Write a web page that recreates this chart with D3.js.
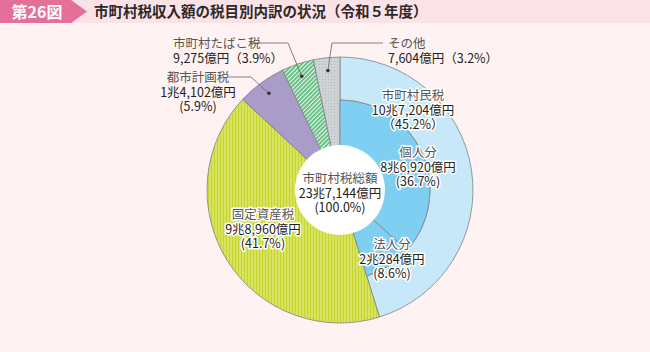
<!DOCTYPE html>
<html>
<head>
<meta charset="utf-8">
<script src="https://cdn.jsdelivr.net/npm/d3@7"></script>
<style>
  html, body { margin: 0; padding: 0; background: #fef3f2; }
  svg { display: block; font-family: "Noto Sans CJK JP", "Noto Sans", sans-serif; }
</style>
</head>
<body>
<div id="chart"></div>
<script>
// 億円
const taxNames = ["市町村民税", "固定資産税", "都市計画税", "市町村たばこ税", "その他"];
const taxValues = [107204, 98960, 14102, 9275, 7604];
const taxAmounts = ["10兆7,204億円", "9兆8,960億円", "1兆4,102億円", "9,275億円", "7,604億円"];
const taxShares = ["45.2%", "41.7%", "5.9%", "3.9%", "3.2%"];

const residentNames = ["個人分", "法人分"];
const residentValues = [86920, 20284];
const residentAmounts = ["8兆6,920億円", "2兆284億円"];
const residentShares = ["36.7%", "8.6%"];

const totalName = "市町村税総額";
const totalAmount = "23兆7,144億円";
const totalShare = "100.0%";

const W = 650, H = 352;
const cx = 340, cy = 190;
const R = 133, rMid = 90, rHole = 45;

const svg = d3.select("#chart").append("svg")
    .attr("width", W)
    .attr("height", H);

// patterns
const defs = svg.append("defs");

const pStripe = defs.append("pattern")
    .attr("id", "pat-fixed")
    .attr("patternUnits", "userSpaceOnUse")
    .attr("width", 3).attr("height", 10);
pStripe.append("rect").attr("width", 3).attr("height", 10).attr("fill", "#d8e460");
pStripe.append("rect").attr("width", 1).attr("height", 10).attr("fill", "#c5d52c");

const pHatch = defs.append("pattern")
    .attr("id", "pat-tobacco")
    .attr("patternUnits", "userSpaceOnUse")
    .attr("width", 3).attr("height", 3)
    .attr("patternTransform", "rotate(45)");
pHatch.append("rect").attr("width", 3).attr("height", 3).attr("fill", "#e8f6ea");
pHatch.append("rect").attr("width", 1.7).attr("height", 3).attr("fill", "#55b977");

const pDot = defs.append("pattern")
    .attr("id", "pat-other")
    .attr("patternUnits", "userSpaceOnUse")
    .attr("width", 3).attr("height", 3);
pDot.append("rect").attr("width", 3).attr("height", 3).attr("fill", "#cfd3d6");
pDot.append("rect").attr("width", 1).attr("height", 1).attr("fill", "#b3b8bc");

// title band
svg.append("rect").attr("x", 0).attr("y", 0).attr("width", W).attr("height", 23).attr("fill", "#fbe2e7");
svg.append("path")
    .attr("d", "M0,0 H71 L87,11.5 L71,23 H0 Z")
    .attr("fill", "#e4709a");
svg.append("text")
    .attr("x", 37).attr("y", 17.5)
    .attr("text-anchor", "middle")
    .attr("fill", "#fff")
    .style("font-size", "16px")
    .style("font-weight", "bold")
    .text("第26図");
svg.append("text")
    .attr("x", 94).attr("y", 17)
    .attr("fill", "#2a2a2a")
    .style("font-size", "14.5px")
    .style("font-weight", "bold")
    .text("市町村税収入額の税目別内訳の状況（令和５年度）");

const g = svg.append("g").attr("transform", `translate(${cx},${cy})`);

const pie = d3.pie().sort(null).value(d => d);
const taxArcs = pie(taxValues);

const fills = ["#c6e8f9", "url(#pat-fixed)", "#a99cc9", "url(#pat-tobacco)", "url(#pat-other)"];

// outer slices (市町村民税 only outer ring, the rest full)
const arcOuter = d3.arc().innerRadius(rMid).outerRadius(R);
const arcFull = d3.arc().innerRadius(0).outerRadius(R);

g.selectAll("path.tax")
    .data(taxArcs)
    .join("path")
    .attr("class", "tax")
    .attr("d", (d, i) => i === 0 ? arcOuter(d) : arcFull(d))
    .attr("fill", (d, i) => fills[i])
    .attr("stroke", "#7d8287")
    .attr("stroke-width", 0.8);

// inner ring for 個人分 / 法人分 inside the 市町村民税 angle
const span = taxArcs[0].endAngle - taxArcs[0].startAngle;
const residentArcs = d3.pie().sort(null).value(d => d)
    .startAngle(taxArcs[0].startAngle)
    .endAngle(taxArcs[0].startAngle + span)(residentValues);

const arcInner = d3.arc().innerRadius(0).outerRadius(rMid);
g.selectAll("path.res")
    .data(residentArcs)
    .join("path")
    .attr("class", "res")
    .attr("d", arcInner)
    .attr("fill", "#7fcff2")
    .attr("stroke", "#7d8287")
    .attr("stroke-width", 0.8);

// centre hole
g.append("circle").attr("r", rHole).attr("fill", "#fff");

// text helper
function label(x, y, lines, anchor, halo) {
    const t = svg.append("text")
        .attr("text-anchor", anchor)
        .style("font-size", "12.5px");
    lines.forEach((s, i) => {
        t.append("tspan")
            .attr("x", x)
            .attr("y", y + i * 14.5)
            .attr("fill", i === 0 ? "#555" : "#222")
            .text(s);
    });
    if (halo) {
        t.attr("stroke", "#fff").attr("stroke-width", 3).attr("stroke-linejoin", "round")
            .attr("paint-order", "stroke");
    }
    return t;
}

// labels inside
label(cx, 183, [totalName, totalAmount, `(${totalShare})`], "middle", false);
label(413, 100, [taxNames[0], taxAmounts[0], `（${taxShares[0]}）`], "middle", true);
label(418, 157, [residentNames[0], residentAmounts[0], `(${residentShares[0]})`], "middle", true);
label(392, 249, [residentNames[1], residentAmounts[1], `(${residentShares[1]})`], "middle", true);
label(263, 219, [taxNames[1], taxAmounts[1], `(${taxShares[1]})`], "middle", true);

// outside labels with leader lines
const outside = [
    { i: 2, x: 198, y: 82, anchor: "middle", lines: [taxNames[2], taxAmounts[2], `(${taxShares[2]})`], lineY: 77, from: 229, elbowX: 251 },
    { i: 3, x: 173, y: 48, anchor: "start", lines: [taxNames[3], `${taxAmounts[3]}（${taxShares[3]}）`], lineY: 43, from: 250, elbowX: 288 },
    { i: 4, x: 388, y: 48, anchor: "start", lines: [taxNames[4], `${taxAmounts[4]}（${taxShares[4]}）`], lineY: 43, from: 383, elbowX: 332 }
];

const arcDot = d3.arc().innerRadius(120).outerRadius(120);
outside.forEach(o => {
    const c = arcDot.centroid(taxArcs[o.i]);
    const px = cx + c[0], py = cy + c[1];
    svg.append("path")
        .attr("d", d3.line()([[o.from, o.lineY], [o.elbowX, o.lineY], [px, py]]))
        .attr("fill", "none")
        .attr("stroke", "#666")
        .attr("stroke-width", 0.8);
    svg.append("circle").attr("cx", px).attr("cy", py).attr("r", 1.8).attr("fill", "#333");
    label(o.x, o.y, o.lines, o.anchor, false);
});
</script>
</body>
</html>
